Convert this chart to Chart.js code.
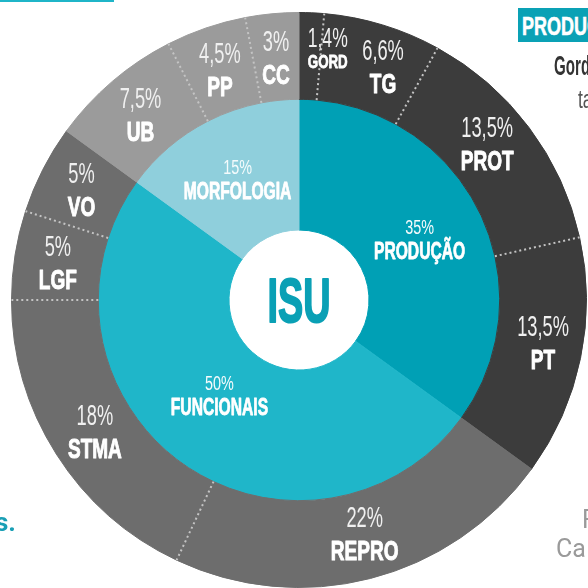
<!DOCTYPE html>
<html><head><meta charset="utf-8">
<script src="https://cdn.jsdelivr.net/npm/chart.js@4"></script>
<style>
html,body{margin:0;padding:0;width:588px;height:588px;overflow:hidden;background:#fff;}
body{position:relative;}
#wrap{position:absolute;left:11px;top:12px;width:576px;height:576px;}
.frag{position:absolute;white-space:nowrap;transform-origin:left top;line-height:1;}
</style></head><body>
<div id="wrap"><canvas id="c" width="576" height="576"></canvas></div>
<div class="frag" style="left:0;top:0;width:114px;height:2px;background:#1fb5c8;"></div>
<div class="frag" style="left:518px;top:8px;width:120px;height:34px;background:#0aa1b5;"></div>
<div class="frag" style="left:522px;top:12px;font:bold 25px 'Liberation Sans',sans-serif;color:#fff;transform:scaleX(0.72);-webkit-text-stroke:0.6px #fff;">PRODUÇÃO</div>
<div class="frag" style="left:554px;top:51px;font:bold 27px 'Liberation Sans',sans-serif;color:#333;transform:scaleX(0.56);">Gordura</div>
<div class="frag" style="left:578px;top:85px;font:25px 'Liberation Sans',sans-serif;color:#555;transform:scaleX(0.7);">ta</div>
<div class="frag" style="left:-5px;top:507px;font:bold 26px 'Roboto',sans-serif;color:#1a9fb5;">s.</div>
<div class="frag" style="left:582px;top:505px;font:25px 'Roboto',sans-serif;color:#9a9a9a;">Fonte</div>
<div class="frag" style="left:556px;top:534px;font:25px 'Roboto',sans-serif;color:#9a9a9a;">Ca</div>
<script>
// ---- data ----
const groupLabels = ['PRODUÇÃO', 'FUNCIONAIS', 'MORFOLOGIA'];
const groupValues = [35, 50, 15];
const itemLabels = ['GORD', 'TG', 'PROT', 'PT', 'REPRO', 'STMA', 'LGF', 'VO', 'UB', 'PP', 'CC'];
const itemValues = [1.4, 6.6, 13.5, 13.5, 22, 18, 5, 5, 7.5, 4.5, 3];
const itemGroups = [0, 0, 0, 0, 1, 1, 1, 1, 2, 2, 2];
const centerLabel = 'ISU';

// ---- styles ----
const innerColors = ['#00a0b5', '#1fb6c9', '#8fcfdc'];
const outerColors = ['#3c3c3c', '#6d6d6d', '#9b9b9b'];
const nudges = {GORD: [18, -7], TG: [13, 0], PROT: [-7, -10], PT: [5, -8], REPRO: [5, -3], STMA: [2, 0], FUNCIONAIS: [0, -15]};

const pct = v => String(v).replace('.', ',') + '%';

function txt(ctx, s, x, y, font, color, sx, stroke) {
  ctx.save();
  ctx.translate(x, y);
  ctx.scale(sx, 1);
  ctx.font = font;
  ctx.fillStyle = color;
  ctx.textAlign = 'center';
  ctx.textBaseline = 'alphabetic';
  ctx.fillText(s, 0, 0);
  if (stroke) {
    ctx.strokeStyle = color;
    ctx.lineWidth = stroke;
    ctx.lineJoin = 'round';
    ctx.strokeText(s, 0, 0);
  }
  ctx.restore();
}

const labelPlugin = {
  id: 'sunLabels',
  afterDatasetsDraw(chart) {
    const ctx = chart.ctx;
    const outer = chart.getDatasetMeta(0).data;
    const inner = chart.getDatasetMeta(1).data;
    // dotted separators inside same group
    ctx.save();
    ctx.strokeStyle = '#c4c4c4';
    ctx.lineWidth = 2;
    ctx.setLineDash([2, 3]);
    outer.forEach((arc, i) => {
      if (i + 1 < outer.length && itemGroups[i] === itemGroups[i + 1]) {
        const p = arc.getProps(['x', 'y', 'endAngle', 'innerRadius', 'outerRadius'], true);
        ctx.beginPath();
        ctx.moveTo(p.x + Math.cos(p.endAngle) * p.innerRadius, p.y + Math.sin(p.endAngle) * p.innerRadius);
        ctx.lineTo(p.x + Math.cos(p.endAngle) * p.outerRadius, p.y + Math.sin(p.endAngle) * p.outerRadius);
        ctx.stroke();
      }
    });
    ctx.restore();
    const F = "'Liberation Sans', Arial, sans-serif";
    // outer labels
    outer.forEach((arc, i) => {
      const p = arc.getProps(['x', 'y', 'startAngle', 'endAngle', 'innerRadius', 'outerRadius'], true);
      const a = (p.startAngle + p.endAngle) / 2, r = (p.innerRadius + p.outerRadius) / 2;
      const n = nudges[itemLabels[i]] || [0, 0];
      const cx = p.x + Math.cos(a) * r + n[0], cy = p.y + Math.sin(a) * r + n[1];
      if (itemLabels[i] === 'GORD') {
        txt(ctx, pct(itemValues[i]), cx, cy - 2, '27px ' + F, '#f0f0f0', 0.65);
        txt(ctx, itemLabels[i], cx, cy + 19, 'bold 19px ' + F, '#ffffff', 0.7, 0.8);
      } else {
        txt(ctx, pct(itemValues[i]), cx, cy - 6, '29px ' + F, '#f0f0f0', 0.63);
        txt(ctx, itemLabels[i], cx, cy + 27, 'bold 28px ' + F, '#ffffff', 0.68, 1);
      }
    });
    // inner labels
    inner.forEach((arc, i) => {
      const p = arc.getProps(['x', 'y', 'startAngle', 'endAngle', 'innerRadius', 'outerRadius'], true);
      const a = (p.startAngle + p.endAngle) / 2, r = (p.innerRadius + p.outerRadius) / 2;
      const n = nudges[groupLabels[i]] || [0, 0];
      const cx = p.x + Math.cos(a) * r + n[0], cy = p.y + Math.sin(a) * r + n[1];
      txt(ctx, pct(groupValues[i]), cx, cy - 5, '20px ' + F, '#f4fbfc', 0.72);
      txt(ctx, groupLabels[i], cx, cy + 20, 'bold 23px ' + F, '#ffffff', 0.68, 0.8);
    });
    // center
    const c = inner[0].getProps(['x', 'y'], true);
    txt(ctx, centerLabel, c.x, c.y + 22, 'bold 63px ' + F, '#0aa0b5', 0.6, 2);
  }
};

new Chart(document.getElementById('c'), {
  type: 'doughnut',
  data: {
    labels: itemLabels,
    datasets: [
      {data: itemValues, backgroundColor: itemGroups.map(g => outerColors[g]), borderColor: itemGroups.map(g => outerColors[g]), borderWidth: 1, weight: 87},
      {data: groupValues, backgroundColor: innerColors, borderColor: innerColors, borderWidth: 1, weight: 131}
    ]
  },
  options: {
    responsive: false,
    animation: false,
    events: [],
    cutout: 70,
    layout: {padding: 0},
    plugins: {legend: {display: false}, tooltip: {enabled: false}}
  },
  plugins: [labelPlugin]
});
</script>
</body></html>
